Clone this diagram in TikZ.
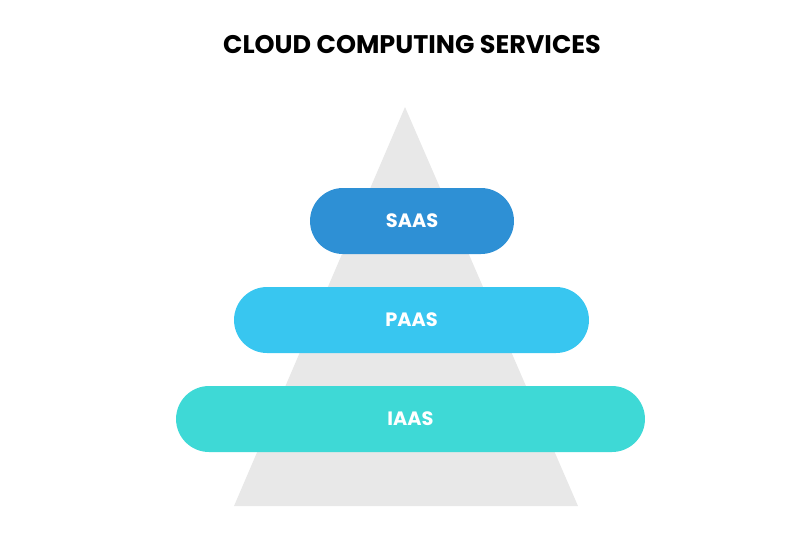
\documentclass[tikz,border=0pt]{standalone}
\usepackage{fontspec}
\setmainfont{Poppins}
\definecolor{saascol}{HTML}{2E90D5}
\definecolor{paascol}{HTML}{38C6F0}
\definecolor{iaascol}{HTML}{3ED9D6}
\definecolor{pyrcol}{HTML}{E8E8E8}
\tikzset{
  layer/.style={rounded corners=0.66cm, minimum height=1.32cm, inner sep=0pt,
    text=white, font=\bfseries\fontsize{11}{13}\selectfont}
}
\begin{document}
\begin{tikzpicture}[x=0.02cm, y=-0.02cm]
    \useasboundingbox (0,0) rectangle (803,535);
    
    \fill[pyrcol] (405,107) -- (578,506) -- (234,506) -- cycle;
    
    \node (title) at (412,45) {\bfseries\fontsize{14.5}{17}\selectfont CLOUD COMPUTING SERVICES};
    
    \node[layer, fill=saascol, minimum width=4.08cm] (saas) at (412,221) {SAAS};
    \node[layer, fill=paascol, minimum width=7.10cm] (paas) at (411.5,320) {PAAS};
    \node[layer, fill=iaascol, minimum width=9.38cm] (iaas) at (410.5,419) {IAAS};
\end{tikzpicture}
\end{document}
